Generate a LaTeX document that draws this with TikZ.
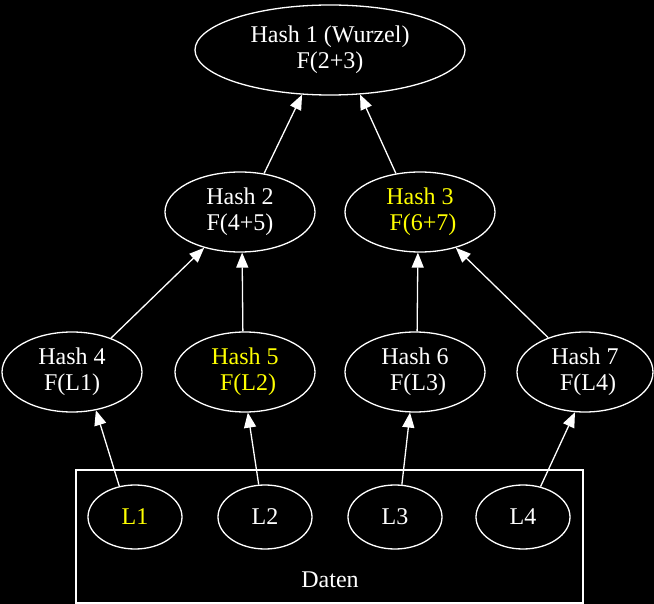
\documentclass[tikz,border=0pt]{standalone}
\usepackage{fontspec}
\setmainfont{Liberation Serif}
\usetikzlibrary{shapes.geometric,arrows.meta}
\definecolor{hl}{RGB}{255,255,0}
\begin{document}
\begin{tikzpicture}[x=1pt,y=-1pt,
  hnode/.style={ellipse,draw=white,line width=1.3pt,inner sep=0pt,
    text=white,align=center,font=\fontsize{24}{26}\selectfont},
  edge/.style={draw=white,line width=1.3pt,
    -{Triangle[length=15pt,width=12pt,fill=white]}},
  lbl/.style={text=white,font=\fontsize{24}{26}\selectfont}]
  % background and frame of the page
  \fill[black] (0,0) rectangle (654,604);
  \useasboundingbox (0,0) rectangle (654,604);

  % data cluster
  \draw[white,line width=1.3pt] (76,470) rectangle (583,603);
  \node[lbl] (daten) at (330,580) {Daten};

  % tree of hashes
  \node[hnode,minimum width=270pt,minimum height=90pt] (h1) at (330,50) {Hash 1 (Wurzel)\\F(2+3)};
  \node[hnode,minimum width=150pt,minimum height=80pt] (h2) at (240,212) {Hash 2\\F(4+5)};
  \node[hnode,minimum width=150pt,minimum height=80pt,text=hl] (h3) at (420,212) {Hash 3\\\hspace*{6pt}F(6+7)};
  \node[hnode,minimum width=140pt,minimum height=80pt] (h4) at (72,372) {Hash 4\\F(L1)};
  \node[hnode,minimum width=140pt,minimum height=80pt,text=hl] (h5) at (245,372) {Hash 5\\\hspace*{6pt}F(L2)};
  \node[hnode,minimum width=140pt,minimum height=80pt] (h6) at (415,372) {Hash 6\\\hspace*{6pt}F(L3)};
  \node[hnode,minimum width=136pt,minimum height=80pt] (h7) at (585,372) {Hash 7\\\hspace*{6pt}F(L4)};

  % data blocks
  \node[hnode,minimum width=94pt,minimum height=64pt,text=hl] (l1) at (135,517) {L1};
  \node[hnode,minimum width=94pt,minimum height=64pt] (l2) at (265,517) {L2};
  \node[hnode,minimum width=94pt,minimum height=64pt] (l3) at (395,517) {L3};
  \node[hnode,minimum width=94pt,minimum height=64pt] (l4) at (523,517) {L4};

  % edges from children to parents
  \draw[edge] (h2.58) -- (h1.238);
  \draw[edge] (h3.122) -- (h1.304);
  \draw[edge] (h4.41) -- (h2.225);
  \draw[edge] (h5.93) -- (h2.273);
  \draw[edge] (h6.87) -- (h3.267);
  \draw[edge] (h7.137) -- (h3.315);
  \draw[edge] (l1.117) -- (h4.302);
  \draw[edge] (l2.101) -- (h5.274);
  \draw[edge] (l3.78) -- (h6.263);
  \draw[edge] (l4.60) -- (h7.256);
\end{tikzpicture}
\end{document}
